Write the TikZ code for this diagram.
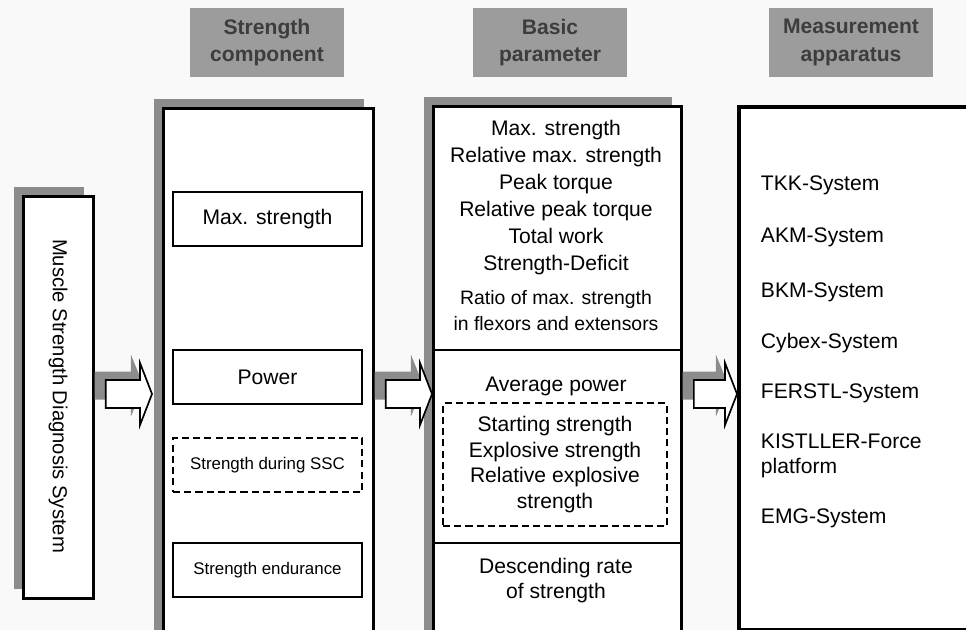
\documentclass[tikz,border=0pt]{standalone}
\usepackage{fontspec}
\setmainfont{Liberation Sans}
\usetikzlibrary{shadows,calc}

\definecolor{shadegray}{gray}{0.55}
\definecolor{headgray}{gray}{0.61}
\definecolor{headtext}{gray}{0.24}
\definecolor{paper}{gray}{0.975}

% hollow block arrow with its shadow: #1 start, #2 tip
\newcommand\fatarrow[2]{%
  \path let \p1=#1, \p2=#2 in
    [fill=shadegray] (\x1,\y2+16pt) -- (\x2-15pt,\y2+16pt) -- (\x2-15pt,\y2+28pt)
      -- (\x2-6pt,\y2+6pt) -- (\x2-15pt,\y2-16pt) -- (\x2-15pt,\y2-4pt) -- (\x1,\y2-4pt) -- cycle;
  \path let \p1=#1, \p2=#2 in
    [draw, line width=1.2pt, fill=white] (\x1+8pt,\y2+10pt) -- (\x2-8.5pt,\y2+10pt) -- (\x2-8.5pt,\y2+22pt)
      -- (\x2,\y2) -- (\x2-8.5pt,\y2-22pt) -- (\x2-8.5pt,\y2-10pt) -- (\x1+8pt,\y2-10pt) -- cycle;
}

\tikzset{
  panel/.style={draw, line width=1.8pt, fill=white, anchor=north west,
    drop shadow={shadow xshift=-6.4pt, shadow yshift=6.4pt, fill=shadegray, opacity=1}},
  item/.style={draw, line width=1.3pt, fill=white, minimum width=4.725cm, minimum height=1.35cm,
    font=\fontsize{15}{18}\selectfont},
  dashitem/.style={item, dash pattern=on 5pt off 3pt},
  header/.style={fill=headgray, text=headtext, align=center, minimum width=3.85cm, minimum height=1.725cm,
    font=\bfseries\fontsize{15}{19.8}\selectfont},
  param/.style={align=center, font=\fontsize{15}{19.1}\selectfont},
  device/.style={anchor=west, align=left, font=\fontsize{15}{17.7}\selectfont}
}

\begin{document}
\begin{tikzpicture}[x=0.025cm, y=-0.025cm]
  \useasboundingbox (0,0) rectangle (966,630);
  \clip (0,0) rectangle (966,630);
  \fill[paper] (0,0) rectangle (966,630);

  % headers
  \node[header] (hcomp) at (267,42.5) {Strength\\component};
  \node[header] (hbasic) at (550,42.5) {Basic\\parameter};
  \node[header, minimum width=4.1cm] (hmeas) at (851,42.5) {Measurement\\apparatus};

  % panels
  \node[panel, minimum width=1.75cm, minimum height=10.05cm] (sys) at (22,195) {};
  \node[rotate=-90, font=\fontsize{14.4}{17}\selectfont] (systxt) at (58,396) {Muscle Strength Diagnosis System};

  \node[panel, minimum width=5.25cm, minimum height=13.6cm] (comp) at (162,107) {};
  \node[panel, minimum width=6.2cm, minimum height=13.6cm] (basic) at (432,105) {};
  \node[draw, line width=2.6pt, fill=white, anchor=north west, minimum width=7cm, minimum height=13.075cm] (meas) at (737,105) {};

  % strength components
  \node[item] (maxs) at (267.5,219) {Max. strength};
  \node[item] (power) at (267.5,377) {Power};
  \node[dashitem, font=\fontsize{12}{14}\selectfont] (ssc) at (267.5,465) {Strength during SSC};
  \node[item, font=\fontsize{12}{14}\selectfont] (endur) at (267.5,570) {Strength endurance};

  % basic parameters
  \draw[line width=1.8pt] (basic.west |- 0,350) -- (basic.east |- 0,350);
  \draw[line width=1.8pt] (basic.west |- 0,543) -- (basic.east |- 0,543);
  \node[param] (pmax) at (556,197.5) {Max. strength\\Relative max. strength\\Peak torque\\Relative peak torque\\Total work\\Strength-Deficit};
  \node[param, font=\fontsize{13.8}{19.1}\selectfont] (pratio) at (556,310.5) {Ratio of max. strength\\in flexors and extensors};
  \node[param] (pavg) at (556,386) {Average power};
  \node[param, draw, line width=1.3pt, dash pattern=on 5pt off 3pt, minimum width=5.6cm, minimum height=3.075cm,
    font=\fontsize{15}{18.4}\selectfont] (pexpl) at (555,464.5) {Starting strength\\Explosive strength\\Relative explosive\\strength};
  \node[param, font=\fontsize{15}{17.7}\selectfont] (pdesc) at (556,580.5) {Descending rate\\of strength};

  % measurement apparatus
  \node[device] (tkk) at (756,185) {TKK-System};
  \node[device] (akm) at (756,237) {AKM-System};
  \node[device] (bkm) at (756,292) {BKM-System};
  \node[device] (cybex) at (756,343) {Cybex-System};
  \node[device] (ferstl) at (756,393) {FERSTL-System};
  \node[device] (kistler) at (756,455.5) {KISTLLER-Force\\platform};
  \node[device] (emg) at (756,518) {EMG-System};

  % block arrows
  \coordinate (mid) at (0,394);
  \fatarrow{(sys.east |- mid)}{($(comp.west |- mid)+(-10,0)$)}
  \fatarrow{(comp.east |- mid)}{(basic.west |- mid)}
  \fatarrow{(basic.east |- mid)}{(meas.west |- mid)}
\end{tikzpicture}
\end{document}
